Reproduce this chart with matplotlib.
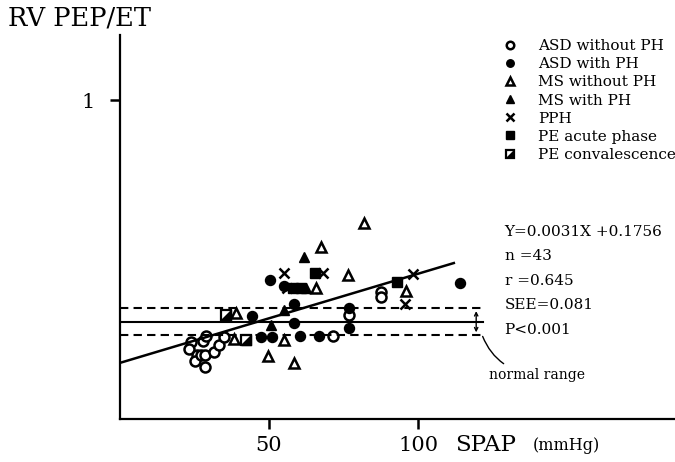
import matplotlib
matplotlib.use("Agg")
import matplotlib.pyplot as plt
from matplotlib.legend_handler import HandlerTuple

plt.rcParams['font.family'] = ['DejaVu Serif']

# ASD without PH (open circles)
asd_no_x = [23.8, 23.2, 25.8, 25.2, 27.2, 28.5, 28.5, 27.9, 28.9, 31.5, 33.2, 34.9, 71.4, 87.6, 87.6, 76.8]
asd_no_y = [0.241, 0.219, 0.201, 0.182, 0.201, 0.201, 0.163, 0.245, 0.260, 0.210, 0.232, 0.257, 0.260, 0.398, 0.382, 0.326]
# ASD with PH (filled circles)
asd_ph_x = [44.3, 50.2, 55.1, 58.5, 58.5, 60.5, 47.3, 51.0, 66.9, 76.8, 76.8, 114.2]
asd_ph_y = [0.324, 0.436, 0.418, 0.360, 0.301, 0.260, 0.257, 0.257, 0.260, 0.348, 0.284, 0.427]
# MS without PH (open triangles)
ms_no_x = [38.9, 38.3, 55.0, 49.8, 58.5, 82.0, 67.4, 76.6, 65.8, 96.0]
ms_no_y = [0.332, 0.251, 0.248, 0.197, 0.177, 0.613, 0.540, 0.451, 0.410, 0.402]
# MS with PH (filled triangles)
ms_ph_x = [61.8, 55.1, 50.8, 62.4]
ms_ph_y = [0.507, 0.342, 0.295, 0.411]
# PPH (crosses)
pph_x = [55.0, 68.0, 98.4, 95.7, 56.0]
pph_y = [0.457, 0.457, 0.455, 0.360, 0.411]
# PE acute phase (filled squares)
pe_ac_x = [58.1, 60.7, 65.3, 93.0]
pe_ac_y = [0.411, 0.411, 0.459, 0.430]
# PE convalescence (half filled squares)
pe_cv_x = [35.6, 42.3]
pe_cv_y = [0.326, 0.248]

# regression line as drawn, and normal range
reg_x = [0, 112]
reg_y = [0.176, 0.489]
norm_x = [0, 121.8]
norm_mid = 0.305
norm_lo = 0.263
norm_hi = 0.347

stats = ["Y=0.0031X +0.1756", "n =43", "r =0.645", "SEE=0.081", "P<0.001"]

fig = plt.figure(figsize=(6.75, 4.62), dpi=100)
ax = fig.add_axes([120 / 675, 43 / 462, 555 / 675, 384 / 462])
ax.set_xlim(0, 186.2)
ax.set_ylim(0, 1.204)

ms = 7.2
h1, = ax.plot(asd_no_x, asd_no_y, 'o', ms=ms, mfc='white', mec='black', mew=1.8, ls='none')
h2, = ax.plot(asd_ph_x, asd_ph_y, 'o', ms=ms, color='black', ls='none')
h3, = ax.plot(ms_no_x, ms_no_y, '^', ms=ms, mfc='white', mec='black', mew=1.8, ls='none')
h4, = ax.plot(ms_ph_x, ms_ph_y, '^', ms=ms, color='black', ls='none')
h5, = ax.plot(pph_x, pph_y, 'x', ms=ms, color='black', mew=1.8, ls='none')
h6, = ax.plot(pe_ac_x, pe_ac_y, 's', ms=ms, color='black', ls='none')
tri = [(-1, -1), (1, -1), (1, 1), (-1, -1)]
h7a, = ax.plot(pe_cv_x, pe_cv_y, 's', ms=ms, mfc='white', mec='black', mew=1.6, ls='none')
h7b, = ax.plot(pe_cv_x, pe_cv_y, marker=tri, ms=ms, color='black', ls='none')

ax.plot(reg_x, reg_y, color='black', lw=1.8)
ax.plot(norm_x, [norm_mid, norm_mid], color='black', lw=1.5)
ax.plot(norm_x, [norm_lo, norm_lo], color='black', lw=1.5, ls=(0, (4, 2.5)))
ax.plot(norm_x, [norm_hi, norm_hi], color='black', lw=1.5, ls=(0, (4, 2.5)))
ax.annotate('', xy=(119.5, norm_hi), xytext=(119.5, norm_lo),
            arrowprops=dict(arrowstyle='<->', color='black', lw=1, mutation_scale=6))
ax.annotate('normal range', xy=(120.5, 0.292), xytext=(140, 0.138),
            ha='center', va='center', fontsize=10,
            arrowprops=dict(arrowstyle='-', color='black', lw=1,
                            connectionstyle='arc3,rad=-0.35', shrinkB=8))

for i, s in enumerate(stats):
    ax.text(129, 0.587 - i * 0.077, s, fontsize=11, va='center', ha='left')

ax.spines['top'].set_visible(False)
ax.spines['right'].set_visible(False)
ax.spines['left'].set_linewidth(1.6)
ax.spines['bottom'].set_linewidth(1.6)
ax.set_xticks([50, 100])
ax.set_yticks([1])
ax.tick_params(direction='out', length=7, width=1.8, labelsize=15)
ax.tick_params(axis='x', pad=5)
ax.tick_params(axis='y', pad=11)

ax.text(112.5, -0.083, 'SPAP', fontsize=16.5, va='center', ha='left', clip_on=False)
ax.text(138.5, -0.083, '(mmHg)', fontsize=11.5, va='center', ha='left', clip_on=False)
fig.text(8 / 675, 1 - 18 / 462, 'RV PEP/ET', fontsize=18.5, va='center', ha='left')

leg = ax.legend([h1, h2, h3, h4, h5, h6, (h7a, h7b)],
                ['ASD without PH', 'ASD with PH', 'MS without PH', 'MS with PH',
                 'PPH', 'PE acute phase', 'PE convalescence'],
                handler_map={tuple: HandlerTuple(ndivide=1)},
                loc='upper left', bbox_to_anchor=(0.665, 1.025), frameon=False,
                fontsize=11, markerscale=0.75, handlelength=1.0, handletextpad=1.3,
                labelspacing=0.27)

fig.savefig('out.png', dpi=100)
